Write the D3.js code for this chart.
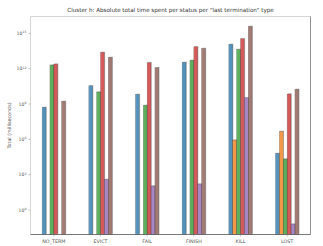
<!DOCTYPE html>
<html>
<head>
<meta charset="utf-8">
<script src="https://cdn.jsdelivr.net/npm/d3@7"></script>
<style>
body { margin: 0; background: #fff; }
text { font-family: "DejaVu Sans", sans-serif; fill: #555; }
</style>
</head>
<body>
<script>
// termination types on the x axis
var categories = ["NO_TERM", "EVICT", "FAIL", "FINISH", "KILL", "LOST"];
// one array per status, log10 of total ms (null = no bar)
var series = ["s0", "s1", "s2", "s3", "s4", "s5"];
var s0 = [8.72, 10.55, 9.82, 12.54, 14.07, 4.81];
var s1 = [null, null, null, null, 5.94, 6.68];
var s2 = [12.31, 10.02, 8.89, 12.71, 13.64, 4.33];
var s3 = [12.39, 13.39, 12.51, 13.86, 14.54, 9.85];
var s4 = [null, 2.6, 2.04, 2.21, 9.53, -1.19];
var s5 = [9.23, 12.96, 12.08, 13.72, 15.59, 10.25];
var yTicks = [0, 3, 6, 9, 12, 15];
var colors = ["#1f77b4", "#ff7f0e", "#2ca02c", "#d62728", "#9467bd", "#8c564b"];

var values = [s0, s1, s2, s3, s4, s5];

var width = 323, height = 246,
    mLeft = 30.5, mRight = 310.5, mTop = 16.5, mBottom = 234.5;

var svg = d3.select("body").append("svg")
    .attr("width", width)
    .attr("height", height);

var x = d3.scaleBand()
    .domain(categories)
    .range([mLeft, mRight]);

var x1 = d3.scaleBand()
    .domain(series)
    .range([x.bandwidth() * 0.25, x.bandwidth() * 0.75]);

var y = d3.scaleLog()
    .domain([Math.pow(10, -2.08), Math.pow(10, 16.43)])
    .range([mBottom, mTop]);

var rows = [];
values.forEach(function(arr, si) {
    arr.forEach(function(v, ci) {
        if (v !== null) rows.push({ cat: categories[ci], s: series[si], c: colors[si], v: Math.pow(10, v) });
    });
});

// shadows
svg.append("g").selectAll("rect")
    .data(rows)
    .enter().append("rect")
    .attr("x", d => x(d.cat) + x1(d.s) + 0.8)
    .attr("y", d => y(d.v) - 0.8)
    .attr("width", x1.bandwidth())
    .attr("height", d => mBottom - y(d.v))
    .attr("fill", "#999")
    .attr("opacity", 0.45);

svg.append("g").selectAll("rect")
    .data(rows)
    .enter().append("rect")
    .attr("x", d => x(d.cat) + x1(d.s))
    .attr("y", d => y(d.v))
    .attr("width", x1.bandwidth())
    .attr("height", d => mBottom - y(d.v))
    .attr("fill", d => d.c)
    .attr("fill-opacity", 0.7)
    .attr("stroke", "#222")
    .attr("stroke-opacity", 0.45)
    .attr("stroke-width", 0.5);

// frame
svg.append("line").attr("x1", mLeft).attr("x2", mRight).attr("y1", mTop).attr("y2", mTop)
    .attr("stroke", "#ccc").attr("stroke-width", 0.8);
svg.append("line").attr("x1", mLeft).attr("x2", mLeft).attr("y1", mTop).attr("y2", mBottom)
    .attr("stroke", "#ccc").attr("stroke-width", 0.8);
svg.append("line").attr("x1", mRight).attr("x2", mRight).attr("y1", mTop).attr("y2", mBottom)
    .attr("stroke", "#777").attr("stroke-width", 0.8);
svg.append("line").attr("x1", mLeft).attr("x2", mRight).attr("y1", mBottom).attr("y2", mBottom)
    .attr("stroke", "#555").attr("stroke-width", 0.8);

// y ticks
var yt = svg.append("g").selectAll("g")
    .data(yTicks)
    .enter().append("g")
    .attr("transform", d => "translate(0," + y(Math.pow(10, d)) + ")");
yt.append("line").attr("x1", mLeft - 2).attr("x2", mLeft).attr("stroke", "#888").attr("stroke-width", 0.5);
var lab = yt.append("text")
    .attr("x", mLeft - 4)
    .attr("dy", "0.35em")
    .attr("text-anchor", "end")
    .style("font-size", "4.6px");
lab.append("tspan").text("10");
lab.append("tspan").attr("dy", "-1.6").style("font-size", "3.2px").text(d => d);

// x ticks
var xt = svg.append("g").selectAll("g")
    .data(categories)
    .enter().append("g")
    .attr("transform", d => "translate(" + (x(d) + x.bandwidth() / 2) + ",0)");
xt.append("line").attr("y1", mBottom).attr("y2", mBottom + 2).attr("stroke", "#888").attr("stroke-width", 0.5);
xt.append("text")
    .attr("y", mBottom + 8)
    .attr("text-anchor", "middle")
    .style("font-size", "4.8px")
    .text(d => d);

svg.append("text")
    .attr("transform", "translate(11," + ((mTop + mBottom) / 2) + ")rotate(-90)")
    .attr("text-anchor", "middle")
    .style("font-size", "4.8px")
    .text("Total (milliseconds)");

svg.append("text")
    .attr("x", (mLeft + mRight) / 2)
    .attr("y", 12)
    .attr("text-anchor", "middle")
    .style("font-size", "5.6px")
    .style("fill", "#333")
    .text("Cluster h: Absolute total time spent per status per \"last termination\" type");
</script>
</body>
</html>
